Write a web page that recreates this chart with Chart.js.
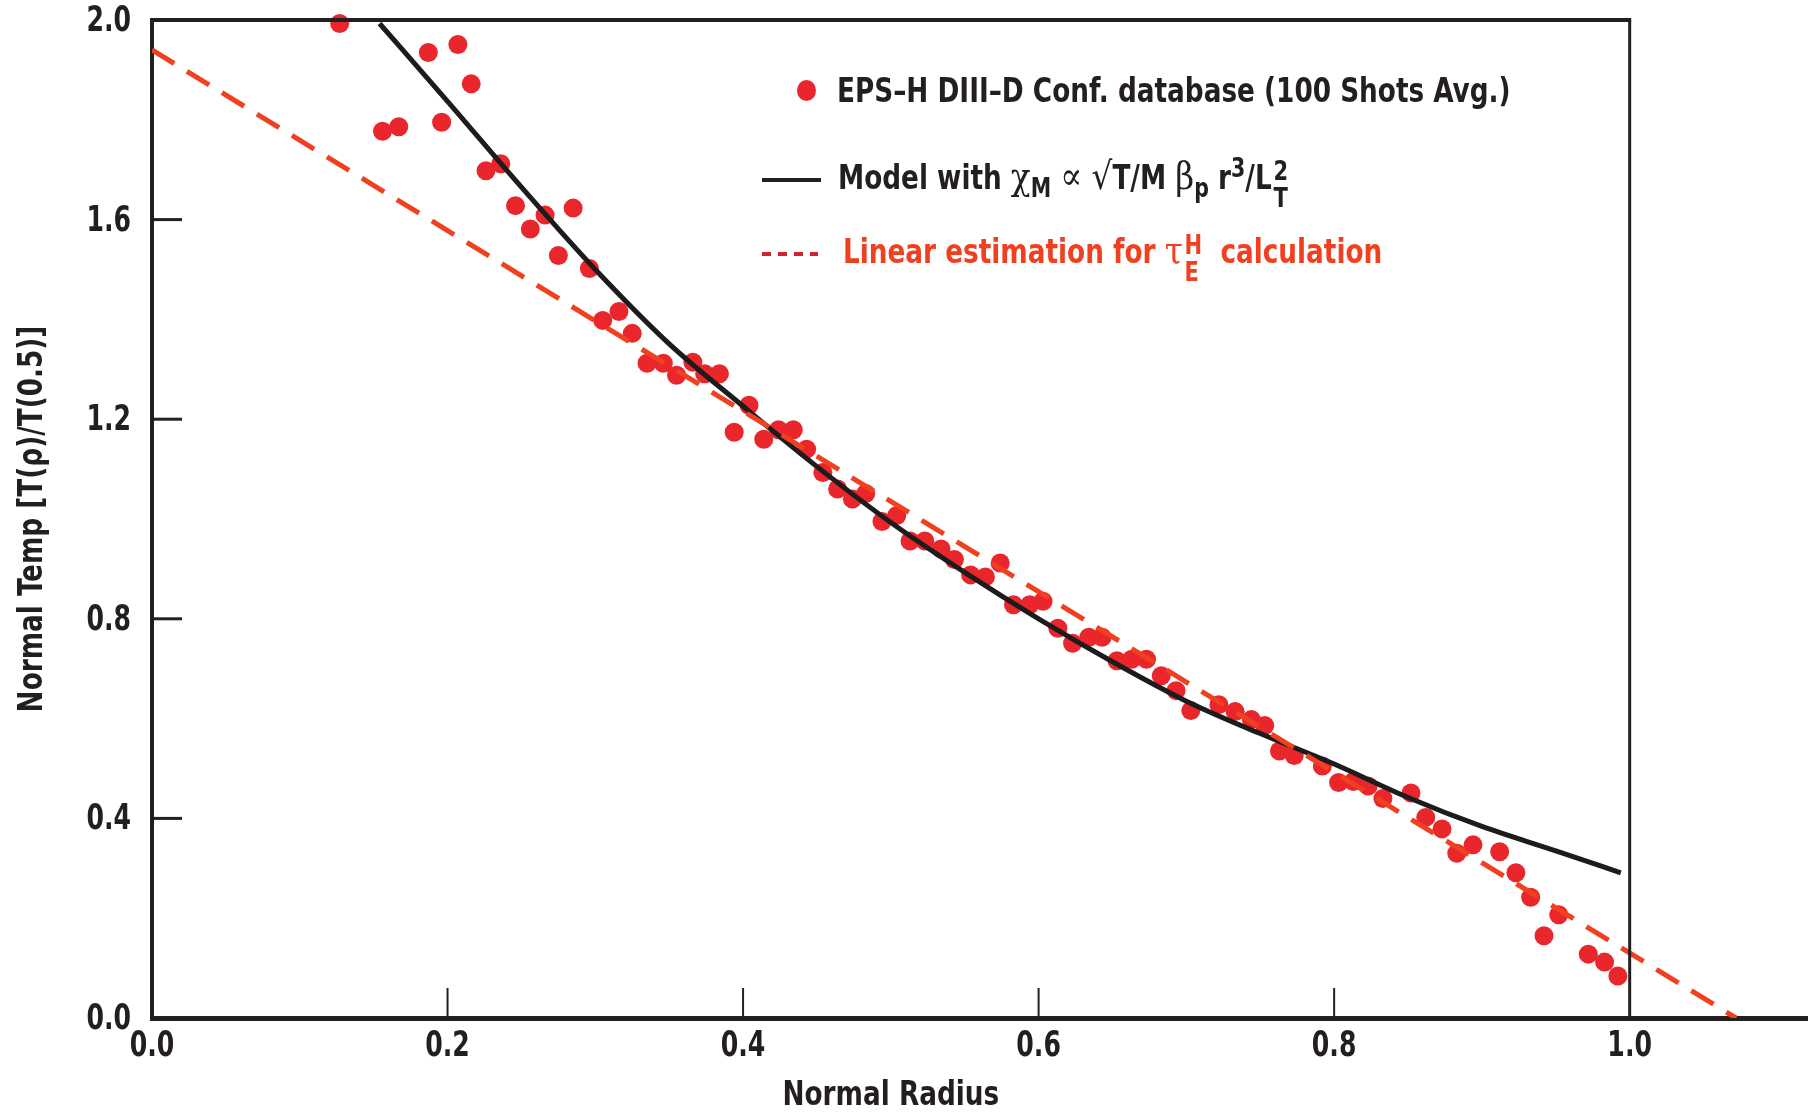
<!DOCTYPE html>
<html lang="en">
  <head>
    <meta charset="UTF-8" />
    <title>Normal Temp vs Normal Radius</title>
    <script src="https://cdn.jsdelivr.net/npm/chart.js@4.4.1/dist/chart.umd.min.js"></script>
    <style>
      html, body { margin: 0; padding: 0; background: #fff; }
      #wrap { position: relative; width: 1819px; height: 1114px; }
      .legend-row {
        position: absolute;
        display: flex;
        align-items: center;
        height: 60px;
        font-family: "DejaVu Sans Condensed", "DejaVu Sans", sans-serif;
        font-weight: bold;
        font-size: 34px;
        color: #231f20;
        white-space: nowrap;
      }
      .legend-row.red { color: #f0401f; }
      .legend-row .txt { display: inline-block; transform: scaleX(0.86); transform-origin: left center; }
      .dot { width: 19px; height: 21px; border-radius: 50%; background: #e8262b; margin-right: 21px; }
      .solid { width: 59px; height: 4px; background: #231f20; margin-right: 17px; }
      .dotted {
        width: 56px; height: 4px; margin-right: 25px;
        background: repeating-linear-gradient(to right, #d0232d 0 9px, transparent 9px 16px);
      }
      .greek { font-family: "DejaVu Serif", "Liberation Serif", serif; font-weight: normal; font-size: 38px; }
      sub, sup { font-size: 0.78em; line-height: 0; }
      .stack {
        display: inline-flex; flex-direction: column; font-size: 0.8em;
        line-height: 0.98; vertical-align: middle; margin-left: 2px; position: relative; top: 5px;
      }
    </style>
  </head>
  <body>
    <div id="wrap">
      <canvas id="tempChart" width="1819" height="1114"></canvas>

      <div class="legend-row" style="left: 797px; top: 60px;">
        <div class="dot"></div>
        <span class="txt">EPS–H DIII–D Conf. database (100 Shots Avg.)</span>
      </div>
      <div class="legend-row" style="left: 762px; top: 150px;">
        <div class="solid"></div>
        <span class="txt">Model with <span class="greek">χ</span><sub>M</sub> <span class="greek">∝</span> <span class="greek">√</span>T/M <span class="greek">β</span><sub>p</sub> r<sup>3</sup>/L<span class="stack"><span>2</span><span>T</span></span></span>
      </div>
      <div class="legend-row red" style="left: 762px; top: 224px;">
        <div class="dotted"></div>
        <span class="txt">Linear estimation for <span class="greek">τ</span><span class="stack"><span>H</span><span>E</span></span>&nbsp; calculation</span>
      </div>
    </div>

    <script>
      // measured profile (100 shots avg.)
      const shotRadius = [
        0.127, 0.156, 0.167, 0.187, 0.196, 0.207, 0.216, 0.226, 0.236, 0.246,
        0.256, 0.266, 0.275, 0.285, 0.296, 0.305, 0.316, 0.325, 0.335, 0.346,
        0.355, 0.366, 0.374, 0.384, 0.394, 0.404, 0.414, 0.424, 0.434, 0.443,
        0.454, 0.464, 0.474, 0.483, 0.494, 0.504, 0.513, 0.523, 0.534, 0.543,
        0.554, 0.564, 0.574, 0.583, 0.594, 0.603, 0.613, 0.623, 0.634, 0.643,
        0.653, 0.663, 0.673, 0.683, 0.693, 0.703, 0.722, 0.733, 0.744, 0.753,
        0.763, 0.773, 0.792, 0.803, 0.813, 0.823, 0.833, 0.852, 0.862, 0.873,
        0.883, 0.894, 0.912, 0.923, 0.933, 0.942, 0.952, 0.972, 0.983, 0.992
      ];
      const shotTemp = [
        1.993, 1.777, 1.786, 1.935, 1.795, 1.951, 1.872, 1.698, 1.712, 1.628,
        1.581, 1.609, 1.528, 1.623, 1.502, 1.398, 1.416, 1.372, 1.312, 1.312,
        1.288, 1.314, 1.291, 1.291, 1.174, 1.228, 1.160, 1.179, 1.179, 1.140,
        1.093, 1.060, 1.040, 1.051, 0.995, 1.007, 0.956, 0.956, 0.940, 0.919,
        0.888, 0.884, 0.912, 0.828, 0.828, 0.835, 0.781, 0.751, 0.763, 0.763,
        0.716, 0.719, 0.719, 0.686, 0.656, 0.616, 0.628, 0.614, 0.598, 0.586,
        0.535, 0.526, 0.505, 0.472, 0.474, 0.465, 0.440, 0.451, 0.402, 0.379,
        0.330, 0.347, 0.333, 0.291, 0.242, 0.165, 0.207, 0.128, 0.112, 0.084
      ];

      // model curve
      const modelRadius = [0.154, 0.2, 0.25, 0.3, 0.35, 0.4, 0.45, 0.5, 0.55, 0.6, 0.65, 0.7, 0.75, 0.8, 0.85, 0.9, 0.95, 0.994];
      const modelTemp = [1.993, 1.837, 1.665, 1.500, 1.351, 1.226, 1.105, 0.993, 0.893, 0.800, 0.714, 0.635, 0.570, 0.509, 0.442, 0.384, 0.335, 0.291];

      // linear estimation
      const linearRadius = [0.0, 1.072];
      const linearTemp = [1.94, 0.0];

      const xTicks = [0.0, 0.2, 0.4, 0.6, 0.8, 1.0];
      const yTicks = [0.0, 0.4, 0.8, 1.2, 1.6, 2.0];
      const xTitle = "Normal Radius";
      const yTitle = "Normal Temp [T(ρ)/T(0.5)]";

      const pts = (xs, ys) => xs.map((x, i) => ({ x: x, y: ys[i] }));
      const ink = "#231f20";
      const fontFamily = "'DejaVu Sans Condensed', 'DejaVu Sans', sans-serif";

      // condensed bold text, like the original typeface
      function narrowText(ctx, text, x, y, align, size, squeeze, rot) {
        ctx.save();
        ctx.translate(x, y);
        if (rot) ctx.rotate(rot);
        ctx.scale(squeeze, 1);
        ctx.font = "bold " + size + "px " + fontFamily;
        ctx.fillStyle = ink;
        ctx.textAlign = align;
        ctx.textBaseline = "middle";
        ctx.fillText(text, 0, 0);
        ctx.restore();
      }

      // frame, inward tick marks, tick labels and axis titles
      const framePlugin = {
        id: "frame",
        afterDatasetsDraw(chart) {
          const { ctx, scales: { x, y } } = chart;
          const x0 = x.getPixelForValue(0);
          const x1 = x.getPixelForValue(1.0);
          const yTop = y.getPixelForValue(2.0);
          const yBot = y.getPixelForValue(0);
          ctx.save();
          ctx.strokeStyle = ink;
          ctx.lineWidth = 4;
          ctx.beginPath();
          ctx.moveTo(x0 - 2, yTop);
          ctx.lineTo(x1 + 1.5, yTop);
          ctx.stroke();
          ctx.lineWidth = 3;
          ctx.beginPath();
          ctx.moveTo(x1, yTop);
          ctx.lineTo(x1, yBot);
          ctx.stroke();
          yTicks.slice(1, -1).forEach((v) => {
            const py = y.getPixelForValue(v);
            ctx.beginPath();
            ctx.moveTo(x0, py);
            ctx.lineTo(x0 + 30, py);
            ctx.stroke();
          });
          ctx.lineWidth = 2;
          xTicks.slice(1, -1).forEach((v) => {
            const px = x.getPixelForValue(v);
            ctx.beginPath();
            ctx.moveTo(px, yBot);
            ctx.lineTo(px, yBot - 30);
            ctx.stroke();
          });
          ctx.restore();

          yTicks.forEach((v) => narrowText(ctx, v.toFixed(1), x0 - 21, y.getPixelForValue(v) + 2, "right", 35, 0.8));
          xTicks.forEach((v) => narrowText(ctx, v.toFixed(1), x.getPixelForValue(v), yBot + 29, "center", 35, 0.8));
          narrowText(ctx, xTitle, (x0 + x1) / 2, yBot + 78, "center", 34, 0.86);
          narrowText(ctx, yTitle, 33, (yTop + yBot) / 2, "center", 34, 0.86, -Math.PI / 2);
        }
      };

      new Chart(document.getElementById("tempChart"), {
        type: "scatter",
        data: {
          datasets: [
            {
              label: "EPS–H DIII–D Conf. database (100 Shots Avg.)",
              data: pts(shotRadius, shotTemp),
              backgroundColor: "#e8262b",
              borderWidth: 0,
              pointRadius: 9.5,
              order: 3,
              clip: 14
            },
            {
              type: "line",
              label: "Model",
              data: pts(modelRadius, modelTemp),
              borderColor: "#1d1b1c",
              borderWidth: 5,
              pointRadius: 0,
              fill: false,
              cubicInterpolationMode: "monotone",
              order: 2
            },
            {
              type: "line",
              label: "Linear estimation",
              data: pts(linearRadius, linearTemp),
              borderColor: "#f0401f",
              borderWidth: 5,
              borderDash: [26, 15],
              pointRadius: 0,
              fill: false,
              order: 1
            }
          ]
        },
        options: {
          responsive: false,
          animation: false,
          layout: { padding: { top: 20, right: 12, left: 0, bottom: 0 } },
          plugins: { legend: { display: false }, tooltip: { enabled: false } },
          scales: {
            x: {
              type: "linear",
              min: 0,
              max: 1.12,
              afterBuildTicks: (s) => { s.ticks = xTicks.map((v) => ({ value: v })); },
              afterFit: (s) => { s.height = 96; },
              grid: { display: false },
              border: { display: true, color: ink, width: 5 },
              ticks: { display: false }
            },
            y: {
              type: "linear",
              min: 0,
              max: 2.0,
              afterBuildTicks: (s) => { s.ticks = yTicks.map((v) => ({ value: v })); },
              afterFit: (s) => { s.width = 152; },
              grid: { display: false },
              border: { display: true, color: ink, width: 4 },
              ticks: { display: false }
            }
          }
        },
        plugins: [framePlugin]
      });
    </script>
  </body>
</html>
